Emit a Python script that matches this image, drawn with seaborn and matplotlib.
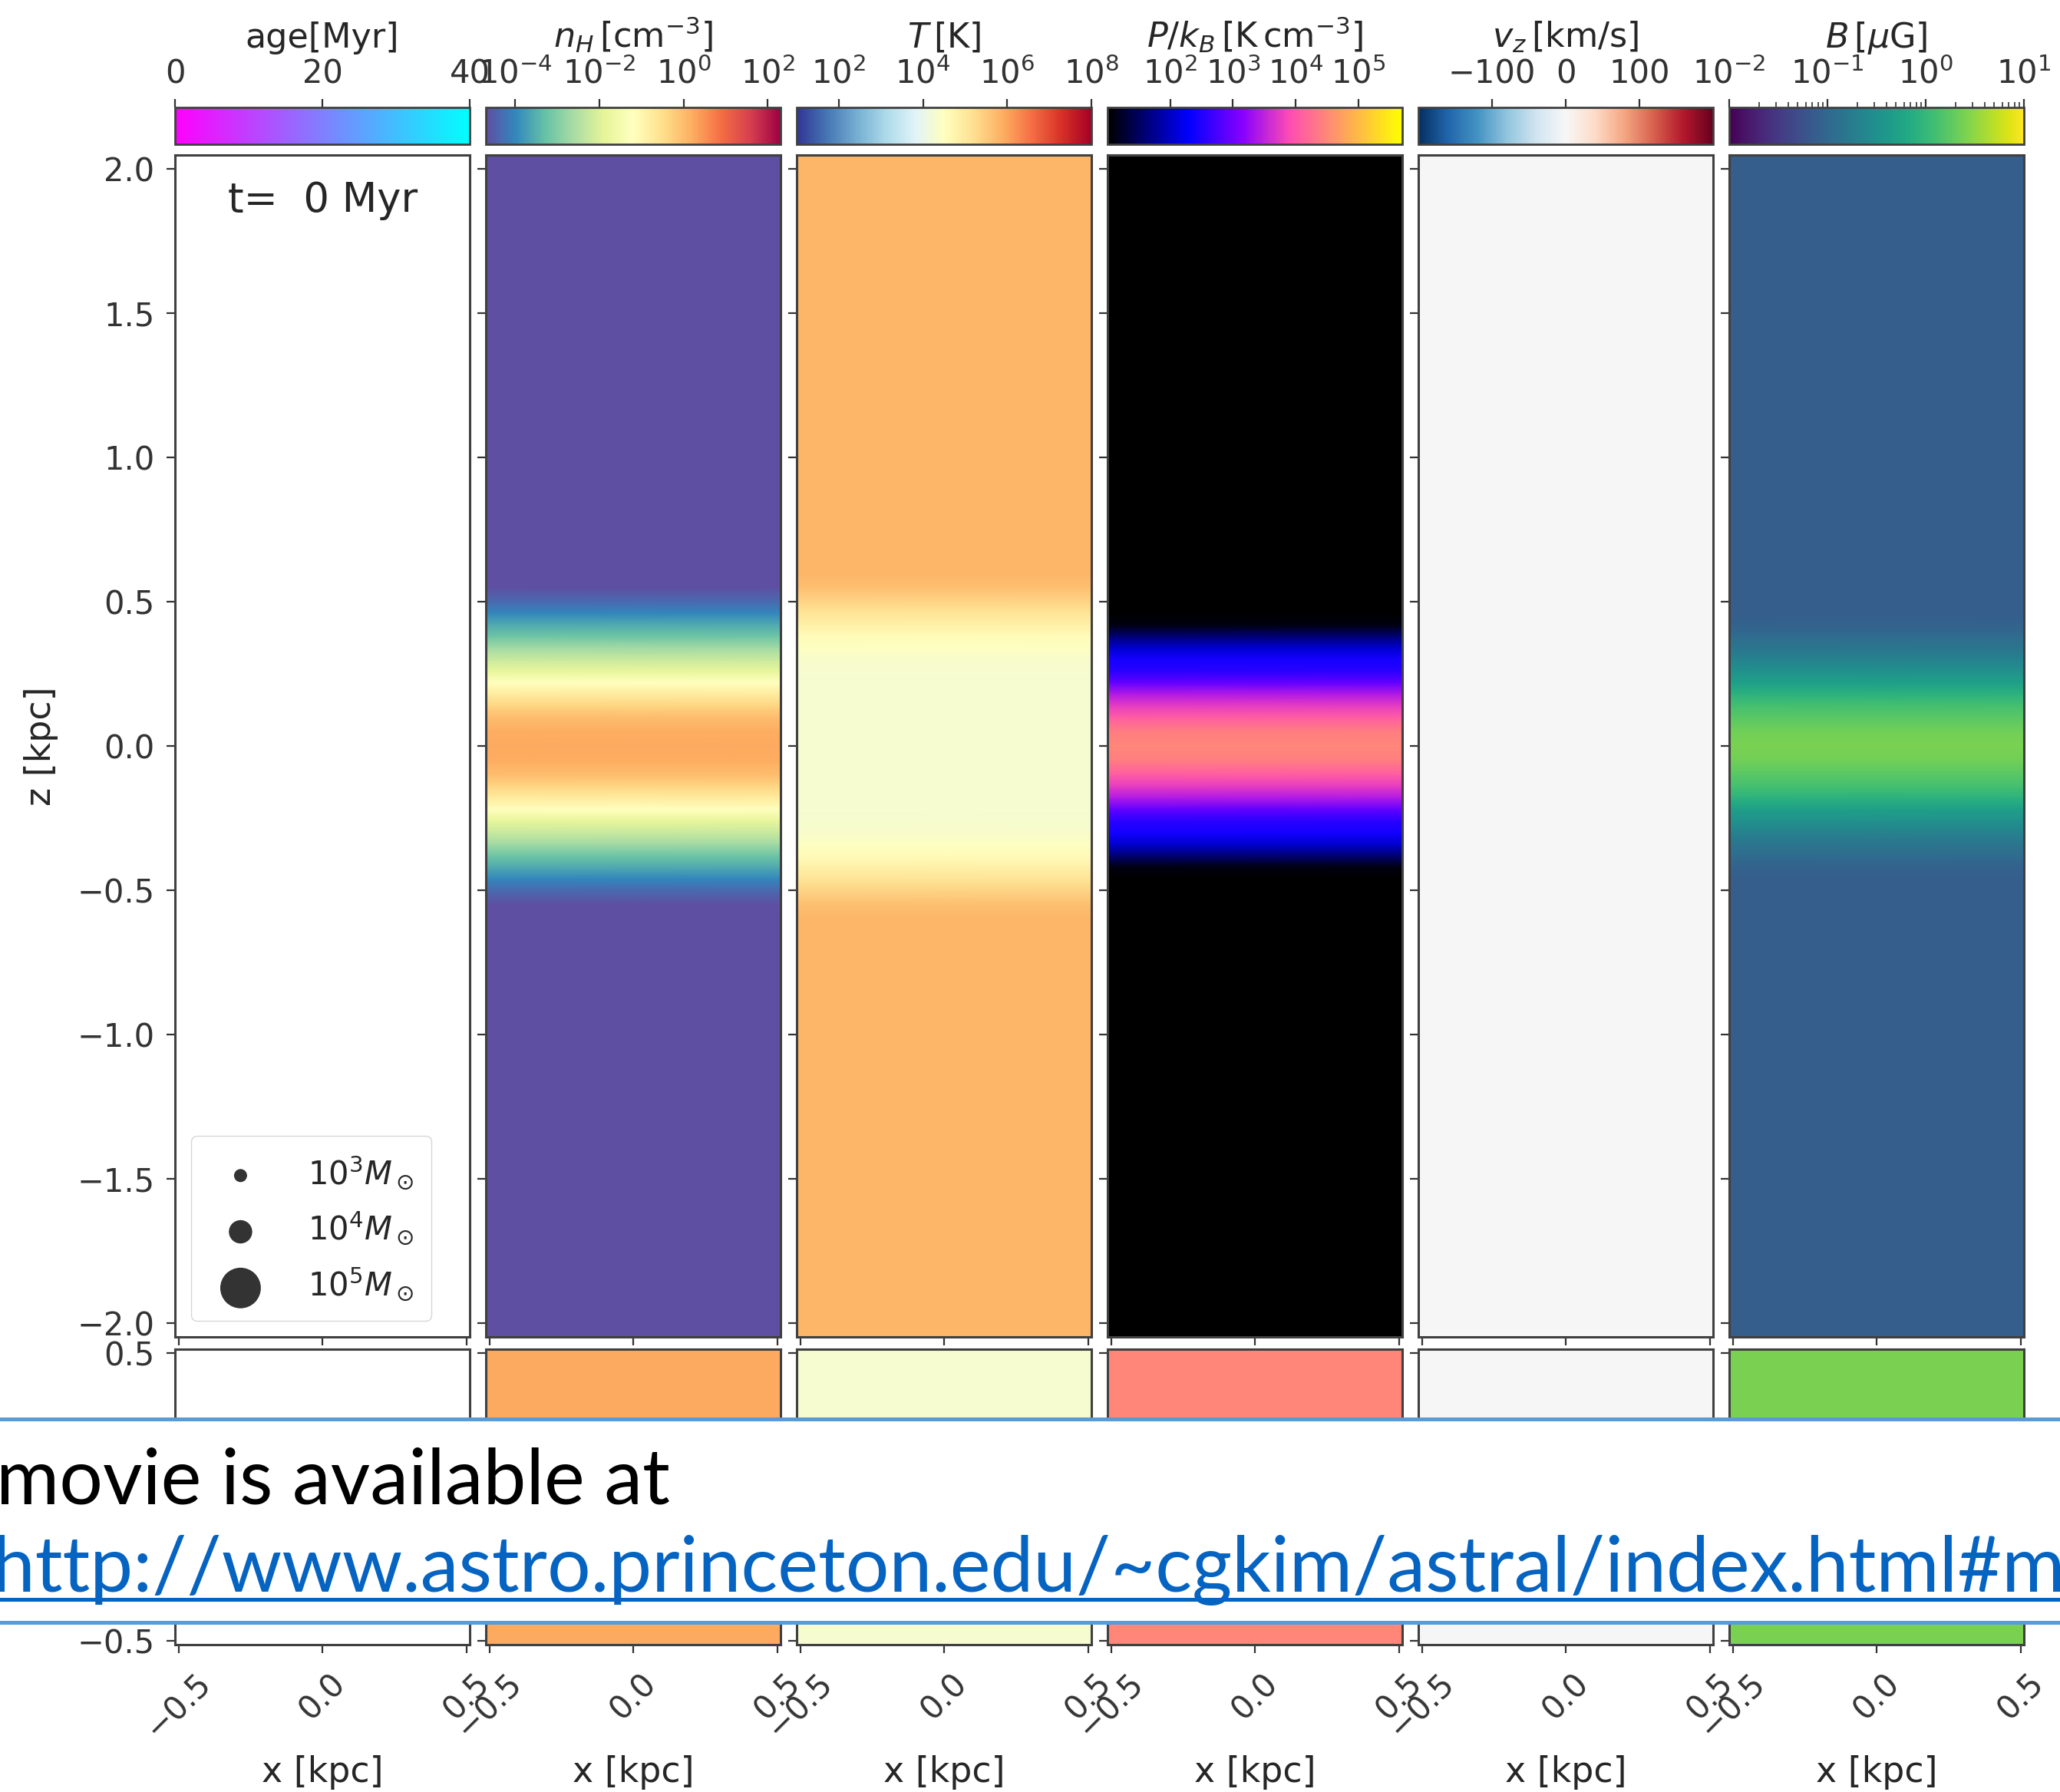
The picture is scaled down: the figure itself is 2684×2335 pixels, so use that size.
import numpy as np
import matplotlib
matplotlib.use("Agg")
import matplotlib.pyplot as plt
import seaborn as sns
from matplotlib.colors import LogNorm, Normalize, ListedColormap
from matplotlib.cm import ScalarMappable
from matplotlib.patches import Rectangle
from matplotlib.lines import Line2D
from matplotlib.ticker import LogLocator, NullLocator

# ---------------------------------------------------------------------------
# Data: vertical profiles of the initial (t = 0) TIGRESS-like disk, uniform in x
# ---------------------------------------------------------------------------
time_myr = 0

z_kpc = [-2.048, -0.60, -0.55, -0.50, -0.46, -0.42, -0.38, -0.34, -0.30, -0.26,
         -0.22, -0.18, -0.14, -0.10, -0.05, 0.00, 0.05, 0.10, 0.14, 0.18,
         0.22, 0.26, 0.30, 0.34, 0.38, 0.42, 0.46, 0.50, 0.55, 0.60, 2.048]

log_nH = [-4.8, -4.8, -4.8, -4.35, -4.0, -3.6, -3.2, -2.7, -2.25, -1.83,
          -1.2, -0.78, -0.36, -0.01, 0.2, 0.24, 0.2, -0.01, -0.36, -0.78,
          -1.2, -1.83, -2.25, -2.7, -3.2, -3.6, -4.0, -4.35, -4.8, -4.8, -4.8]

log_T = [5.8, 5.8, 5.65, 5.35, 5.1, 4.85, 4.6, 4.45, 4.36, 4.32,
         4.3, 4.3, 4.3, 4.3, 4.3, 4.3, 4.3, 4.3, 4.3, 4.3,
         4.3, 4.32, 4.36, 4.45, 4.6, 4.85, 5.1, 5.35, 5.65, 5.8, 5.8]

log_P = [0.8, 0.8, 0.8, 0.8, 0.9, 1.1, 1.6, 2.05, 2.4, 2.55,
         2.9, 3.4, 3.75, 4.05, 4.4, 4.48, 4.4, 4.05, 3.75, 3.4,
         2.9, 2.55, 2.4, 2.05, 1.6, 1.1, 0.9, 0.8, 0.8, 0.8, 0.8]

vz_kms = [0.0, 0.0, 0.0, 0.0, 0.0, 0.0, 0.0, 0.0, 0.0, 0.0,
          0.0, 0.0, 0.0, 0.0, 0.0, 0.0, 0.0, 0.0, 0.0, 0.0,
          0.0, 0.0, 0.0, 0.0, 0.0, 0.0, 0.0, 0.0, 0.0, 0.0, 0.0]

log_B = [-1.12, -1.12, -1.12, -1.12, -1.12, -1.07, -0.95, -0.83, -0.68, -0.5,
         -0.32, -0.08, 0.1, 0.22, 0.355, 0.4, 0.355, 0.22, 0.1, -0.08,
         -0.32, -0.5, -0.68, -0.83, -0.95, -1.07, -1.12, -1.12, -1.12, -1.12, -1.12]

# star-particle size legend
star_mass_labels = [r"$10^3M_\odot$", r"$10^4M_\odot$", r"$10^5M_\odot$"]
star_marker_sizes = [150, 480, 1450]

# colour-bar labels, ranges and ticks
cbar_labels = ["age[Myr]", r"$n_H\,[{\rm cm^{-3}}]$", r"$T\,[{\rm K}]$",
               r"$P/k_B\,[{\rm K\,cm^{-3}}]$", r"$v_z\,[{\rm km/s}]$", r"$B\,[\mu{\rm G}]$"]
cbar_ticks = [[0, 20, 40], [1e-4, 1e-2, 1e0, 1e2], [1e2, 1e4, 1e6, 1e8],
              [1e2, 1e3, 1e4, 1e5], [-100, 0, 100], [1e-2, 1e-1, 1e0, 1e1]]

# box geometry (kpc)
x_box = [-0.512, 0.512]
z_box = [-2.048, 2.048]
y_box = [-0.512, 0.512]

# ---------------------------------------------------------------------------
sns.set_style("ticks")
plt.rcParams.update({
    "font.family": ["DejaVu Sans"],
    "mathtext.fontset": "dejavusans",
    "axes.linewidth": 2.2,
    "axes.edgecolor": "0.25",
    "xtick.major.size": 8, "ytick.major.size": 8,
    "xtick.major.width": 1.6, "ytick.major.width": 1.6,
    "xtick.minor.size": 5, "xtick.minor.width": 1.2,
    "xtick.major.pad": 9, "ytick.major.pad": 11,
    "xtick.labelsize": 30, "ytick.labelsize": 30,
    "xtick.color": "0.2", "ytick.color": "0.2",
    "text.color": "0.15", "axes.labelcolor": "0.15",
})

gnuplot2 = sns.color_palette("gnuplot2", as_cmap=True)
cmaps = [
    sns.color_palette("cool_r", as_cmap=True),
    sns.color_palette("Spectral_r", as_cmap=True),
    sns.color_palette("RdYlBu_r", as_cmap=True),
    ListedColormap(gnuplot2(np.linspace(0.0, 0.92, 256))),
    sns.color_palette("RdBu_r", as_cmap=True),
    sns.color_palette("viridis", as_cmap=True),
]
norms = [
    Normalize(0, 40),
    LogNorm(2e-5, 2e2),
    LogNorm(1e1, 1e8),
    LogNorm(1e1, 5e5),
    Normalize(-200, 200),
    LogNorm(1e-2, 1e1),
]
profiles = [None,
            10.0 ** np.asarray(log_nH),
            10.0 ** np.asarray(log_T),
            10.0 ** np.asarray(log_P),
            np.asarray(vz_kms),
            10.0 ** np.asarray(log_B)]
i_mid = z_kpc.index(0.0)

W, H = 2684, 2335
fig = plt.figure(figsize=(W / 100, H / 100), dpi=100)


def rect(x0, ytop, w, h):
    return [x0 / W, 1 - (ytop + h) / H, w / W, h / H]


panel_w = 384
pitch = 405
left0 = 228

for i in range(6):
    x0 = left0 + i * pitch
    cax = fig.add_axes(rect(x0, 140, panel_w, 48))
    ax = fig.add_axes(rect(x0, 202, panel_w, 1540))
    axm = fig.add_axes(rect(x0, 1758, panel_w, 385))

    # edge-on slice (x-z)
    if profiles[i] is not None:
        Xg, Zg = np.meshgrid(x_box, z_kpc)
        C = np.repeat(profiles[i][:, None], 2, axis=1)
        ax.pcolormesh(Xg, Zg, C, shading="gouraud", cmap=cmaps[i], norm=norms[i])
        # midplane slice (x-y) at z = 0
        Xm, Ym = np.meshgrid(x_box, y_box)
        Cm = np.full((2, 2), profiles[i][i_mid])
        axm.pcolormesh(Xm, Ym, Cm, shading="gouraud", cmap=cmaps[i], norm=norms[i])

    ax.set_xlim(*x_box)
    ax.set_ylim(*z_box)
    ax.set_yticks([-2.0, -1.5, -1.0, -0.5, 0.0, 0.5, 1.0, 1.5, 2.0])
    ax.set_xticks([-0.5, 0.0, 0.5])
    ax.tick_params(labelbottom=False)

    axm.set_xlim(*x_box)
    axm.set_ylim(*y_box)
    axm.set_yticks([-0.5, 0.0, 0.5], ["\u22120.5", "", "0.5"])
    axm.set_xticks([-0.5, 0.0, 0.5])
    axm.tick_params(axis="x", pad=13)
    for lab in axm.get_xticklabels():
        lab.set_rotation(45)
    axm.set_xlabel("x [kpc]", fontsize=33)
    axm.xaxis.set_label_coords(0.5, -0.375)

    if i > 0:
        ax.tick_params(labelleft=False)
        axm.tick_params(labelleft=False)

    # colour bar on top
    cb = fig.colorbar(ScalarMappable(norm=norms[i], cmap=cmaps[i]), cax=cax,
                      orientation="horizontal")
    cb.outline.set_linewidth(2.0)
    cb.outline.set_edgecolor("0.25")
    cax.xaxis.set_ticks_position("top")
    cax.xaxis.set_label_position("top")
    cb.set_ticks(cbar_ticks[i])
    if i == 5:
        cax.xaxis.set_minor_locator(LogLocator(base=10, subs=np.arange(2, 10)))
    else:
        cax.xaxis.set_minor_locator(NullLocator())
    cax.tick_params(axis="x", which="both", top=True, bottom=False,
                    labeltop=True, labelbottom=False, labelsize=30, pad=8)
    cb.set_label(cbar_labels[i], fontsize=32)
    cax.xaxis.label.set_va("baseline")
    cax.xaxis.set_label_coords(0.5, (188 - 62) / 48)

    if i == 0:
        ax.text(0.18, 0.952, f"t={time_myr:3d} Myr", transform=ax.transAxes,
                fontsize=38, ha="left", va="baseline")
        for s, lab in zip(star_marker_sizes, star_mass_labels):
            ax.scatter([], [], s=s, color="k", alpha=0.8, edgecolor="none", label=lab)
        ax.legend(loc="lower left", fontsize=30, frameon=True, labelspacing=0.6,
                  borderpad=0.55, handletextpad=1.1, scatterpoints=1)

fig.text(54 / W, 1 - 972 / H, "z [kpc]", rotation=90, fontsize=33,
         ha="center", va="center")

# link banner overlaid on the lower row
band_top, band_bot = 1849, 2114
fig.add_artist(Rectangle((0, 1 - band_bot / H), 1, (band_bot - band_top) / H,
                         transform=fig.transFigure, facecolor="white",
                         edgecolor="none", zorder=10))
for yb in (band_top, band_bot):
    fig.add_artist(Line2D([0, 1], [1 - yb / H, 1 - yb / H], transform=fig.transFigure,
                          color="#5B9BD5", lw=3.6, zorder=11))
fig.text(-5 / W, 1 - 1959 / H, "movie is available at", fontsize=72,
         family=["Lato", "DejaVu Sans"], color="black", ha="left", va="baseline",
         zorder=12)
fig.text(-10 / W, 1 - 2074 / H,
         "http://www.astro.princeton.edu/~cgkim/astral/index.html#movie",
         fontsize=72, family=["Lato", "DejaVu Sans"], color="#0563C1",
         ha="left", va="baseline", zorder=12)
fig.add_artist(Line2D([0, 1], [1 - 2084 / H, 1 - 2084 / H], transform=fig.transFigure,
                      color="#0563C1", lw=3.6, zorder=12))

fig.savefig("out.png", dpi=100)
